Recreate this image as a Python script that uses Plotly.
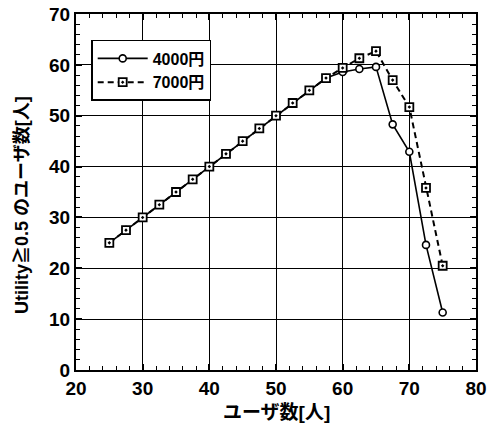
import plotly.graph_objects as go

users = [25, 27.5, 30, 32.5, 35, 37.5, 40, 42.5, 45, 47.5, 50, 52.5, 55, 57.5, 60, 62.5, 65, 67.5, 70, 72.5, 75]
price_4000 = [25, 27.5, 30, 32.5, 35, 37.5, 40, 42.5, 45, 47.5, 50, 52.5, 55, 57.4, 58.6, 59.2, 59.6, 48.3, 42.9, 24.6, 11.3]
price_7000 = [25, 27.5, 30, 32.5, 35, 37.5, 40, 42.5, 45, 47.5, 50, 52.5, 55, 57.4, 59.4, 61.3, 62.7, 57.0, 51.7, 35.8, 20.5]
x_ticks = [20, 30, 40, 50, 60, 70, 80]
y_ticks = [0, 10, 20, 30, 40, 50, 60, 70]
x_title = "ユーザ数[人]"
y_title = "Utility≧0.5 のユーザ数[人]"

FONT = "Liberation Sans, Noto Sans CJK JP, sans-serif"

fig = go.Figure()
fig.add_trace(go.Scatter(
    x=users, y=price_4000, name="4000円", mode="lines+markers",
    line=dict(color="black", width=1.6),
    marker=dict(symbol="circle", size=7, color="white", line=dict(color="black", width=1.6)),
))
fig.add_trace(go.Scatter(
    x=users, y=price_7000, name="7000円", mode="lines+markers",
    line=dict(color="black", width=2, dash="6px,4px"),
    marker=dict(symbol="square-dot", size=8, color="white", line=dict(color="black", width=1.8)),
))

axis_common = dict(
    showline=True, linecolor="black", linewidth=2, mirror="ticks",
    ticks="inside", ticklen=6, tickwidth=1.5, tickcolor="black",
    showgrid=True, gridcolor="black", gridwidth=1.3,
    zeroline=False, automargin=False, ticklabeloverflow="allow",
    tickfont=dict(family=FONT, size=19, color="black", weight="bold"),
)

fig.update_xaxes(
    range=[20, 80], tickvals=x_ticks,
    minor=dict(dtick=2, ticks="inside", ticklen=4, tickcolor="black", tickwidth=1.2, showgrid=False),
    **axis_common,
)
fig.update_yaxes(
    range=[0, 70], tickvals=y_ticks,
    minor=dict(dtick=2, ticks="inside", ticklen=4, tickcolor="black", tickwidth=1.2, showgrid=False),
    **axis_common,
)

fig.add_annotation(
    text=x_title, xref="paper", yref="paper", x=0.5, y=-0.118,
    xanchor="center", yanchor="middle", showarrow=False,
    font=dict(family=FONT, size=19, color="black", weight="bold"),
)
fig.add_annotation(
    text=y_title, xref="paper", yref="paper", x=-0.135, y=0.4635,
    xanchor="center", yanchor="middle", textangle=-90, showarrow=False,
    font=dict(family=FONT, size=18, color="black", weight="bold"),
)

fig.update_layout(
    width=487, height=428,
    margin=dict(l=76, r=11, t=14, b=58),
    paper_bgcolor="white", plot_bgcolor="white",
    showlegend=True,
    legend=dict(
        x=0.038, y=0.927, xanchor="left", yanchor="top",
        bgcolor="white", bordercolor="black", borderwidth=1.5,
        font=dict(family=FONT, size=16, color="black", weight="bold"),
        itemwidth=50, tracegroupgap=0,
    ),
)

fig.write_html("out.html", config={"displayModeBar": False},
               post_script="document.body.style.margin='0';")
